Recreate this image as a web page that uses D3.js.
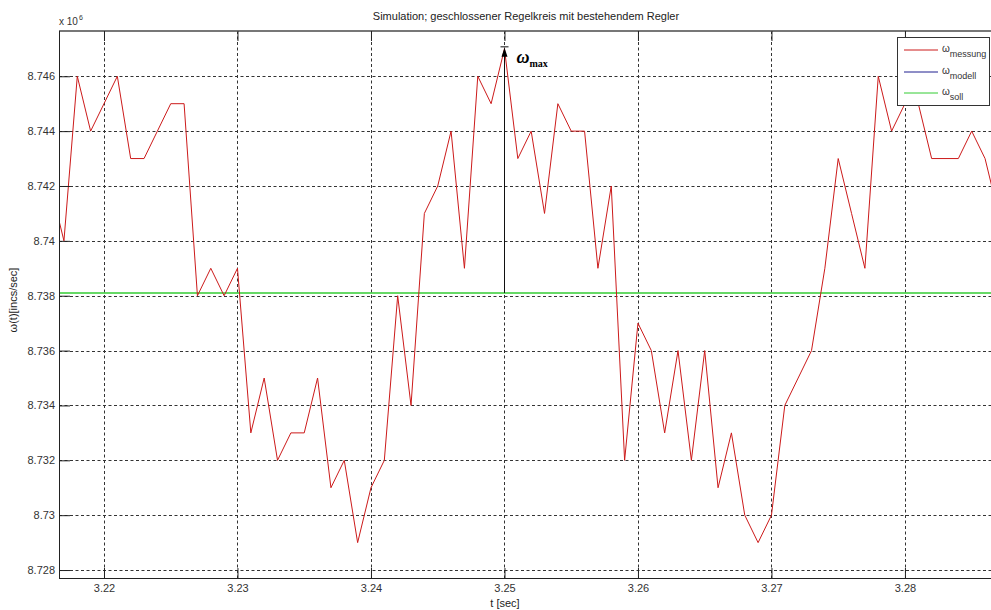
<!DOCTYPE html>
<html>
<head>
<meta charset="utf-8">
<script src="https://cdn.jsdelivr.net/npm/d3@7"></script>
<style>
  html, body { margin: 0; padding: 0; background: #fff; overflow: hidden; }
  svg { display: block; font-family: "Liberation Sans", Arial, sans-serif; }
</style>
</head>
<body>
<svg id="chart" width="991" height="610"></svg>
<script>
// ---- data (omega in units of 1e6 incs/sec) ----
const times = [3.216,3.217,3.218,3.219,3.220,3.221,3.222,3.223,3.224,3.225,3.226,3.227,3.228,3.229,3.230,
  3.231,3.232,3.233,3.234,3.235,3.236,3.237,3.238,3.239,3.240,3.241,3.242,3.243,3.244,3.245,3.246,3.247,
  3.248,3.249,3.250,3.251,3.252,3.253,3.254,3.255,3.256,3.257,3.258,3.259,3.260,3.261,3.262,3.263,3.264,
  3.265,3.266,3.267,3.268,3.269,3.270,3.271,3.272,3.273,3.274,3.275,3.276,3.277,3.278,3.279,3.280,3.281,
  3.282,3.283,3.284,3.285,3.286,3.287];
const omegaMessung = [8.742,8.740,8.746,8.744,8.745,8.746,8.743,8.743,8.744,8.745,8.745,8.738,8.739,8.738,8.739,
  8.733,8.735,8.732,8.733,8.733,8.735,8.731,8.732,8.729,8.731,8.732,8.738,8.734,8.741,8.742,8.744,8.739,
  8.746,8.745,8.747,8.743,8.744,8.741,8.745,8.744,8.744,8.739,8.742,8.732,8.737,8.736,8.733,8.736,8.732,
  8.736,8.731,8.733,8.730,8.729,8.730,8.734,8.735,8.736,8.739,8.743,8.741,8.739,8.746,8.744,8.745,8.745,
  8.743,8.743,8.743,8.744,8.743,8.741];
const omegaSoll = 8.7381;
const omegaMaxT = 3.250;
const omegaMaxV = 8.747;
const xTicks = [3.22, 3.23, 3.24, 3.25, 3.26, 3.27, 3.28];
const xTickLabels = ["3.22", "3.23", "3.24", "3.25", "3.26", "3.27", "3.28"];
const yTicks = [8.728, 8.730, 8.732, 8.734, 8.736, 8.738, 8.740, 8.742, 8.744, 8.746];
const yTickLabels = ["8.728", "8.73", "8.732", "8.734", "8.736", "8.738", "8.74", "8.742", "8.744", "8.746"];
const legendLabels = [["ω", "messung"], ["ω", "modell"], ["ω", "soll"]];
const legendColors = ["#cc1a1a", "#1f1f8f", "#33cc33"];
const titleText = "Simulation; geschlossener Regelkreis mit bestehendem Regler";

// ---- layout ----
const L = 59, T = 31, R = 1000, B = 578;
const svg = d3.select("#chart");
const x = d3.scaleLinear().domain([3.21663, 3.28712]).range([L, R]);
const y = d3.scaleLinear().domain([8.72771, 8.74765]).range([B, T]);

svg.append("defs").append("clipPath").attr("id", "clip")
  .append("rect").attr("x", L).attr("y", T).attr("width", R - L).attr("height", B - T);

// grid
const grid = svg.append("g").attr("stroke", "#333").attr("stroke-width", 1)
  .attr("stroke-dasharray", "3,2.5").attr("fill", "none");
grid.selectAll("line.gx").data(xTicks).join("line").attr("class", "gx")
  .attr("x1", d => Math.round(x(d)) + 0.5).attr("x2", d => Math.round(x(d)) + 0.5)
  .attr("y1", T).attr("y2", B);
grid.selectAll("line.gy").data(yTicks).join("line").attr("class", "gy")
  .attr("y1", d => Math.round(y(d)) + 0.5).attr("y2", d => Math.round(y(d)) + 0.5)
  .attr("x1", L).attr("x2", R);

// soll line
const plot = svg.append("g").attr("clip-path", "url(#clip)");
plot.append("line")
  .attr("x1", L).attr("x2", R).attr("y1", y(omegaSoll)).attr("y2", y(omegaSoll))
  .attr("stroke", legendColors[2]).attr("stroke-width", 1.6);

// messung line
plot.append("path")
  .datum(times.map((t, i) => [t, omegaMessung[i]]))
  .attr("d", d3.line().x(d => x(d[0])).y(d => y(d[1])))
  .attr("fill", "none").attr("stroke", legendColors[0]).attr("stroke-width", 1);

// omega max annotation
const ax = Math.round(x(omegaMaxT)) + 0.5;
const ayTop = y(omegaMaxV) - 2;
svg.append("line").attr("x1", ax).attr("x2", ax)
  .attr("y1", y(omegaSoll)).attr("y2", ayTop + 6)
  .attr("stroke", "#111").attr("stroke-width", 1);
svg.append("line").attr("x1", ax - 4).attr("x2", ax + 4)
  .attr("y1", ayTop).attr("y2", ayTop).attr("stroke", "#111").attr("stroke-width", 1);
svg.append("path")
  .attr("d", `M${ax},${ayTop + 1} L${ax - 3},${ayTop + 10} L${ax + 3},${ayTop + 10} Z`)
  .attr("fill", "#000");
const amax = svg.append("text").attr("x", ax + 12).attr("y", ayTop + 16)
  .attr("font-family", "'Liberation Serif', 'Times New Roman', serif")
  .attr("font-weight", "bold").attr("fill", "#000");
amax.append("tspan").attr("font-size", 18).attr("font-style", "italic").text("ω");
amax.append("tspan").attr("font-size", 10).attr("dy", 4).text("max");

// axes frame
svg.append("line").attr("x1", L).attr("x2", 991).attr("y1", T).attr("y2", T)
  .attr("stroke", "#777").attr("stroke-width", 2);
svg.append("line").attr("x1", L + 0.5).attr("x2", L + 0.5).attr("y1", T).attr("y2", B)
  .attr("stroke", "#222").attr("stroke-width", 1);
svg.append("line").attr("x1", L).attr("x2", 991).attr("y1", B + 0.5).attr("y2", B + 0.5)
  .attr("stroke", "#222").attr("stroke-width", 1);

// ticks (inside) using d3 axes
const xAxisB = d3.axisBottom(x).tickValues(xTicks).tickSize(-10)
  .tickFormat((d, i) => xTickLabels[i]).tickPadding(15);
const gxB = svg.append("g").attr("transform", `translate(0,${B})`).call(xAxisB);
const xAxisT = d3.axisTop(x).tickValues(xTicks).tickSize(-10).tickFormat("");
const gxT = svg.append("g").attr("transform", `translate(0,${T})`).call(xAxisT);
const yAxisL = d3.axisLeft(y).tickValues(yTicks).tickSize(-11)
  .tickFormat((d, i) => yTickLabels[i]).tickPadding(15);
const gyL = svg.append("g").attr("transform", `translate(${L},0)`).call(yAxisL);
[gxB, gxT, gyL].forEach(g => {
  g.select(".domain").remove();
  g.selectAll(".tick line").attr("stroke", "#222");
  g.selectAll("text").attr("font-size", 11).attr("fill", "#333")
    .attr("font-family", "'Liberation Sans', Arial, sans-serif");
});
gxB.selectAll("text").attr("dy", "0.71em").attr("y", 6);
gyL.selectAll("text").attr("x", -4);

// exponent label
const ex = svg.append("text").attr("x", 59).attr("y", 25).attr("font-size", 10).attr("fill", "#333");
ex.append("tspan").text("x 10");
ex.append("tspan").attr("font-size", 7).attr("dy", -5).attr("dx", 1).text("6");

// title and axis labels
svg.append("text").attr("x", 526).attr("y", 20).attr("text-anchor", "middle")
  .attr("font-size", 11).attr("fill", "#222").text(titleText);
svg.append("text").attr("x", 505).attr("y", 607).attr("text-anchor", "middle")
  .attr("font-size", 11).attr("fill", "#222").text("t [sec]");
svg.append("text").attr("transform", "translate(17,300) rotate(-90)")
  .attr("text-anchor", "middle").attr("font-size", 11).attr("fill", "#222")
  .text("ω(t)[incs/sec]");

// legend
const lg = svg.append("g");
lg.append("rect").attr("x", 897.5).attr("y", 37.5).attr("width", 92).attr("height", 68)
  .attr("fill", "#fff").attr("stroke", "#333").attr("stroke-width", 1);
const ly = [50, 72, 93];
legendLabels.forEach((lab, i) => {
  lg.append("line").attr("x1", 904).attr("x2", 938).attr("y1", ly[i]).attr("y2", ly[i])
    .attr("stroke", legendColors[i]).attr("stroke-width", 1);
  const t = lg.append("text").attr("x", 942).attr("y", ly[i] + 2).attr("font-size", 10).attr("fill", "#333");
  t.append("tspan").text(lab[0]);
  t.append("tspan").attr("dy", 5).attr("font-size", 9).text(lab[1]);
});
</script>
</body>
</html>
